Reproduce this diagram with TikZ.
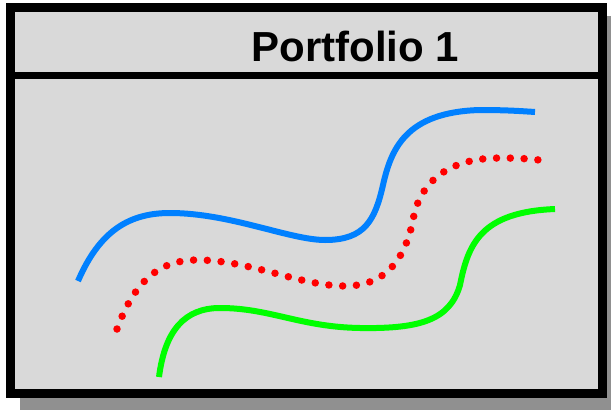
\documentclass[tikz,border=0pt]{standalone}
\usepackage{fontspec}
\setmainfont{Liberation Sans}
\definecolor{panelfill}{HTML}{D9D9D9}
\definecolor{shadowgray}{HTML}{909090}
\definecolor{curveblue}{HTML}{0080FF}
\definecolor{curvered}{HTML}{FF0000}
\definecolor{curvegreen}{HTML}{00FF00}
\tikzset{
  frame/.style={draw=black, line width=9pt, fill=panelfill},
  divider/.style={draw=black, line width=7pt},
  curve/.style={line width=6pt, line join=round},
  dotcurve/.style={line width=7.5pt, line cap=round, dash pattern=on 0pt off 13.8pt},
  titletext/.style={font=\bfseries\fontsize{42}{50}\selectfont, inner sep=0pt, anchor=base}
}
\begin{document}
\begin{tikzpicture}[x=1pt, y=-1pt]
  \useasboundingbox (0,0) rectangle (611,410);
  % drop shadow
  \begin{scope}
    \clip (0,0) rectangle (611,410);
    \fill[shadowgray] (20,16) rectangle (625,420);
  \end{scope}
  % panel with title bar
  \draw[frame] (10,7.5) rectangle (602.5,393.5);
  \draw[divider] (10,75.5) -- (602.5,75.5);
  \node[titletext] (title) at (355.5,61) {Portfolio 1};
  % blue curve
  \draw[curve, curveblue] (78,281)
    .. controls (100,230) and (130,213) .. (170,213)
    .. controls (230,213) and (290,240) .. (325,240)
    .. controls (365,240) and (375,220) .. (383,185)
    .. controls (391,150) and (405,112) .. (480,110)
    .. controls (505,110) and (520,111) .. (535,112);
  % red dotted curve
  \draw[dotcurve, curvered] (117,329)
    .. controls (135,280) and (160,260) .. (197,260)
    .. controls (250,260) and (300,286) .. (345,286)
    .. controls (385,286) and (405,260) .. (413,220)
    .. controls (418,190) and (440,158) .. (500,158)
    .. controls (520,158) and (530,159) .. (539,160);
  % green curve
  \draw[curve, curvegreen] (159,377)
    .. controls (165,330) and (185,308) .. (220,308)
    .. controls (270,308) and (300,327) .. (360,328)
    .. controls (420,329) and (450,320) .. (460,285)
    .. controls (468,245) and (480,212) .. (555,209);
\end{tikzpicture}
\end{document}
